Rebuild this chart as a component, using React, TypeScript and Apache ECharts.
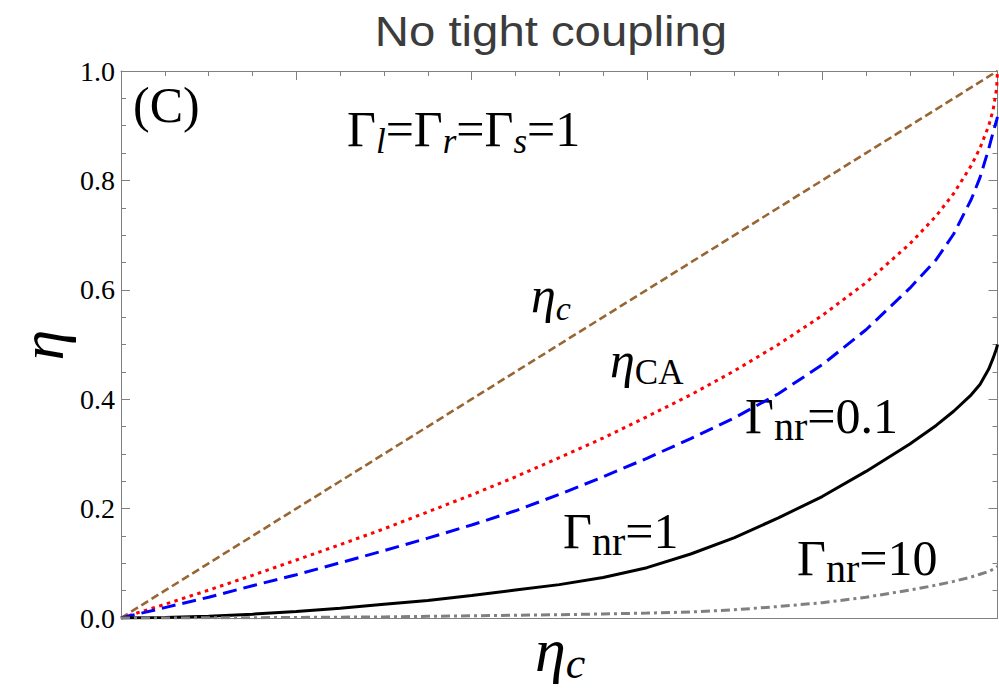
import React, { useEffect, useRef } from "react";
import * as echarts from "echarts";

const ETA_C = [0, 0.05, 0.1, 0.15, 0.2, 0.25, 0.3, 0.35, 0.4, 0.45, 0.5, 0.55, 0.6, 0.65, 0.7, 0.75, 0.8, 0.85, 0.9, 0.93, 0.95, 0.97, 0.98, 0.99, 0.995, 0.999, 1.0];
// brown dashed: η = η_c
const LINE_ETA_C = [0, 0.05, 0.1, 0.15, 0.2, 0.25, 0.3, 0.35, 0.4, 0.45, 0.5, 0.55, 0.6, 0.65, 0.7, 0.75, 0.8, 0.85, 0.9, 0.93, 0.95, 0.97, 0.98, 0.99, 0.995, 0.999, 1.0];
// red dotted: η_CA
const ETA_CA = [0, 0.025, 0.051, 0.078, 0.106, 0.134, 0.163, 0.194, 0.225, 0.258, 0.293, 0.329, 0.368, 0.408, 0.452, 0.5, 0.553, 0.613, 0.684, 0.735, 0.776, 0.827, 0.859, 0.9, 0.929, 0.968, 1.0];
// blue dashed: Γnr = 0.1
const GNR_01 = [0, 0.019, 0.038, 0.059, 0.079, 0.101, 0.123, 0.146, 0.17, 0.196, 0.226, 0.258, 0.292, 0.328, 0.366, 0.41, 0.463, 0.527, 0.603, 0.655, 0.702, 0.765, 0.805, 0.858, 0.888, 0.91, 0.916];
// black solid: Γnr = 1
const GNR_1 = [0, 0.001, 0.003, 0.007, 0.012, 0.018, 0.025, 0.032, 0.041, 0.051, 0.061, 0.074, 0.092, 0.117, 0.147, 0.183, 0.222, 0.268, 0.318, 0.352, 0.378, 0.408, 0.427, 0.455, 0.475, 0.493, 0.5];
// gray dash-dot: Γnr = 10
const GNR_10 = [0, 0.0001, 0.0003, 0.0006, 0.001, 0.0015, 0.002, 0.003, 0.004, 0.005, 0.006, 0.0075, 0.009, 0.011, 0.015, 0.021, 0.028, 0.038, 0.051, 0.06, 0.067, 0.075, 0.08, 0.085, 0.089, 0.093, 0.094];

const Y_MIN = 0;
const Y_MAX = 1;
const Y_STEP = 0.2;

const TITLE = "No tight coupling";

export default function App() {
  const ref = useRef<HTMLDivElement>(null);

  useEffect(() => {
    document.body.style.margin = "0";
    const chart = echarts.init(ref.current!, null, { renderer: "svg" });
    const pairs = (ys: number[]) => ETA_C.map((x, i) => [x, ys[i]]);
    const SERIF = "'Liberation Serif', 'Times New Roman', serif";
    const SANS = "'Liberation Sans', Arial, sans-serif";
    const axisColor = "#808080";
    const axisLine = { show: true, onZero: false, lineStyle: { color: axisColor, width: 1 } };
    const ticks = { show: true, inside: true, length: 9, lineStyle: { color: axisColor, width: 1 } };
    const minor = { show: true, splitNumber: 4, length: 5, lineStyle: { color: axisColor, width: 1 } };

    const m = (size: number, lh: number, italic = false) => ({
      fontSize: size, fontFamily: SERIF, lineHeight: lh, fill: "#000", fontStyle: italic ? "italic" : "normal",
    });
    const s = (size: number, lh: number, italic = false) => ({
      fontSize: size, fontFamily: SERIF, lineHeight: lh, fill: "#000", verticalAlign: "bottom",
      fontStyle: italic ? "italic" : "normal",
    });
    const richText = (x: number, y: number, text: string, rich: any) => ({
      type: "text", x, y,
      style: { text, rich, verticalAlign: "middle", align: "left", fill: "#000" },
    });
    const curve = { type: "line", showSymbol: false, symbol: "none" };

    const option: any = {
      animation: false,
      grid: { left: 121, right: 1.5, top: 71, bottom: 70, containLabel: false },
      xAxis: [
        {
          type: "value", min: Y_MIN, max: Y_MAX, interval: Y_STEP, position: "bottom",
          axisLine, axisTick: { show: false }, axisLabel: { show: false }, splitLine: { show: false },
        },
        {
          type: "value", min: Y_MIN, max: Y_MAX, interval: Y_STEP, position: "top",
          axisLine, axisTick: ticks, minorTick: minor, axisLabel: { show: false }, splitLine: { show: false },
        },
      ],
      yAxis: [
        {
          type: "value", min: Y_MIN, max: Y_MAX, interval: Y_STEP, position: "left",
          axisLine, axisTick: ticks, minorTick: minor, splitLine: { show: false },
          axisLabel: {
            show: true, margin: 6, fontFamily: SERIF, fontSize: 28, color: "#000",
            formatter: (v: number) => v.toFixed(1),
          },
        },
        {
          type: "value", min: Y_MIN, max: Y_MAX, interval: Y_STEP, position: "right",
          axisLine, axisTick: ticks, minorTick: minor, axisLabel: { show: false }, splitLine: { show: false },
        },
      ],
      series: [
        {
          ...curve, name: "ηc", data: pairs(LINE_ETA_C),
          lineStyle: { color: "#996633", width: 2.6, type: [8, 4] },
        },
        {
          ...curve, name: "ηCA", data: pairs(ETA_CA),
          lineStyle: { color: "#ff0000", width: 3, type: [3.5, 4.5] },
        },
        {
          ...curve, name: "Γnr=0.1", data: pairs(GNR_01),
          lineStyle: { color: "#0000ff", width: 3, type: [14, 7] },
        },
        {
          ...curve, name: "Γnr=1", data: pairs(GNR_1),
          lineStyle: { color: "#000000", width: 3 },
        },
        {
          ...curve, name: "Γnr=10", data: pairs(GNR_10),
          lineStyle: { color: "#808080", width: 3, type: [9, 4, 3, 4] },
        },
      ],
      graphic: [
        {
          type: "text", x: 551, y: 31, scaleX: 1.1,
          style: { text: TITLE, fontFamily: SANS, fontSize: 43, fill: "#3c3c3c", align: "center", verticalAlign: "middle" },
        },
        {
          type: "text", x: 133, y: 105,
          style: { text: "(C)", fontFamily: SERIF, fontSize: 50, fill: "#000", align: "left", verticalAlign: "middle" },
        },
        richText(347, 129, "{m|Γ}{s|l}{m|=Γ}{s|r}{m|=Γ}{s|s}{m|=1}", { m: m(50, 60), s: s(35, 40, true) }),
        richText(531, 295, "{m|η}{s|c}", { m: m(50, 60, true), s: s(34, 35, true) }),
        richText(610, 360, "{m|η}{s|CA}", { m: m(50, 60, true), s: s(35, 30) }),
        richText(745, 416, "{m|Γ}{s|nr}{m|=0.1}", { m: m(50, 60), s: s(40, 36) }),
        richText(563, 531, "{m|Γ}{s|nr}{m|=1}", { m: m(50, 60), s: s(40, 36) }),
        richText(797, 558, "{m|Γ}{s|nr}{m|=10}", { m: m(50, 60), s: s(40, 36) }),
        richText(535, 650, "{m|η}{s|c}", { m: m(62, 70, true), s: s(44, 37, true) }),
        {
          type: "text", x: 42, y: 345, rotation: Math.PI / 2,
          style: { text: "η", fontFamily: SERIF, fontStyle: "italic", fontSize: 62, fill: "#000", align: "center", verticalAlign: "middle" },
        },
      ],
    };

    chart.setOption(option);
    return () => chart.dispose();
  }, []);

  return <div ref={ref} style={{ width: 999, height: 688 }} />;
}
